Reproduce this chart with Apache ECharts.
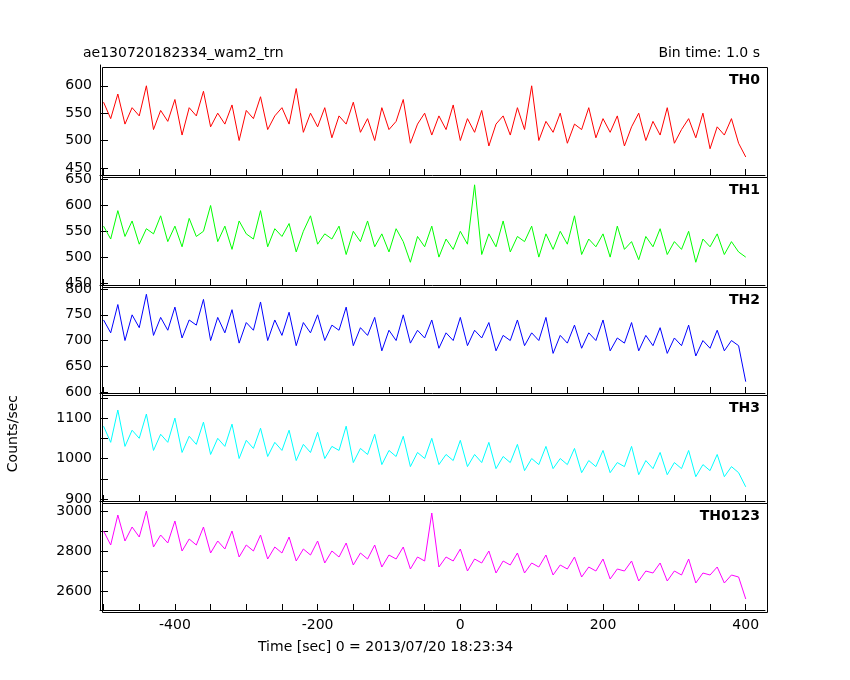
<!DOCTYPE html>
<html>
<head>
<meta charset="utf-8">
<script src="https://cdn.jsdelivr.net/npm/echarts@6/dist/echarts.min.js"></script>
<style>html,body{margin:0;background:#fff}#chart{width:850px;height:680px}</style>
</head>
<body>
<div id="chart"></div>
<script>
// 10 s samples starting at -500 s
var startTime = -500, step = 10;
var th0 = [570,540,585,530,560,545,600,520,555,535,575,510,560,545,590,525,550,530,565,500,555,540,580,520,545,560,530,595,515,550,525,560,505,545,530,570,515,540,500,560,520,535,575,495,530,550,510,545,520,565,500,540,515,555,490,530,545,510,560,520,600,500,535,515,550,495,530,520,560,505,540,515,545,490,525,550,500,535,510,560,495,520,540,505,550,485,525,510,540,495,470];
var th1 = [560,535,590,540,570,525,555,545,580,530,560,520,575,540,550,600,530,560,515,570,545,535,590,520,555,540,565,510,550,580,525,545,535,560,505,550,530,570,520,545,510,555,530,490,540,520,560,500,535,515,550,525,640,505,545,520,570,510,540,530,560,500,545,515,550,525,580,505,535,520,545,500,560,515,530,495,540,520,555,505,530,515,550,490,535,520,545,505,530,510,500];
var th2 = [740,715,770,700,750,725,790,710,745,720,765,705,740,730,780,700,745,715,760,695,735,720,775,700,740,710,755,690,735,715,750,700,730,720,765,690,725,710,745,680,720,700,750,695,720,705,740,685,715,700,745,690,720,705,735,680,710,700,740,690,715,700,745,675,710,695,730,685,715,700,740,680,705,695,735,680,710,690,725,675,705,690,730,670,700,685,720,680,700,690,620];
var th3 = [1080,1040,1120,1030,1070,1050,1110,1020,1060,1040,1100,1015,1055,1035,1090,1010,1050,1030,1085,1000,1045,1025,1075,1005,1040,1020,1070,995,1035,1015,1065,1000,1030,1020,1080,990,1025,1010,1060,985,1020,1005,1055,980,1015,1000,1050,985,1010,995,1045,980,1010,990,1040,975,1005,990,1035,970,1000,985,1030,975,1000,985,1025,965,995,980,1020,965,990,980,1030,960,995,975,1015,960,990,975,1020,955,985,970,1010,955,980,965,930];
var th0123 = [2900,2830,2980,2850,2920,2870,3000,2820,2880,2840,2950,2800,2860,2830,2920,2790,2850,2810,2900,2770,2830,2800,2880,2760,2820,2790,2870,2750,2810,2780,2850,2740,2800,2770,2840,2730,2790,2760,2830,2720,2780,2760,2820,2710,2770,2750,2990,2720,2770,2750,2810,2700,2760,2740,2800,2690,2750,2730,2790,2690,2740,2720,2780,2680,2730,2710,2770,2670,2720,2700,2760,2660,2710,2700,2750,2650,2700,2690,2740,2650,2700,2680,2760,2640,2690,2680,2720,2640,2680,2670,2560];

var xLabels = [-400, -200, 0, 200, 400];
var xTicks = [-500, -450, -400, -350, -300, -250, -200, -150, -100, -50, 0, 50, 100, 150, 200, 250, 300, 350, 400];
var panels = [
	{name: 'TH0', data: th0, color: '#ff0000', min: 437, max: 638, labels: [450, 500, 550, 600], ticks: [450, 500, 550, 600], top: 65},
	{name: 'TH1', data: th1, color: '#00ff00', min: 446, max: 659, labels: [450, 500, 550, 600, 650], ticks: [450, 500, 550, 600, 650], top: 175},
	{name: 'TH2', data: th2, color: '#0000ff', min: 598, max: 808, labels: [600, 650, 700, 750, 800], ticks: [600, 650, 700, 750, 800], top: 285},
	{name: 'TH3', data: th3, color: '#00ffff', min: 895, max: 1162, labels: [900, 1000, 1100], ticks: [900, 950, 1000, 1050, 1100, 1150], top: 393},
	{name: 'TH0123', data: th0123, color: '#ff00ff', min: 2505, max: 3050, labels: [2600, 2800, 3000], ticks: [2600, 2700, 2800, 2900, 3000], top: 501}
];
var heights = [110, 110, 108, 108, 109];
var font = 'DejaVu Sans';

var mainChart = echarts.init(document.getElementById('chart'));
var grid = [], xAxis = [], yAxis = [], series = [], graphic = [];
panels.forEach(function (p, i) {
	var last = i === panels.length - 1;
	grid.push({left: 100, right: 85, top: p.top, height: heights[i]});
	xAxis.push({
		type: 'value', gridIndex: i, min: -505, max: 427,
		axisLine: {onZero: false, lineStyle: {color: '#000'}},
		axisTick: {inside: true, length: 6, customValues: xTicks, lineStyle: {color: '#000'}},
		axisLabel: {show: last, customValues: xLabels, color: '#000', fontSize: 14, fontFamily: font,
			formatter: function (v) { return String(v); }},
		splitLine: {show: false}
	});
	yAxis.push({
		type: 'value', gridIndex: i, min: p.min, max: p.max,
		axisLine: {show: true, onZero: false, lineStyle: {color: '#000'}},
		axisTick: {inside: true, length: 8, customValues: p.ticks, lineStyle: {color: '#000'}},
		axisLabel: {customValues: p.labels, color: '#000', fontSize: 14, fontFamily: font,
			formatter: function (v) { return String(v); }},
		splitLine: {show: false}
	});
	series.push({
		type: 'line', xAxisIndex: i, yAxisIndex: i, showSymbol: false, animation: false,
		lineStyle: {color: p.color, width: 1},
		data: p.data.map(function (v, k) { return [startTime + k * step, v]; })
	});
	graphic.push({type: 'rect', left: 100, top: p.top, shape: {width: 665, height: heights[i]},
		style: {fill: 'none', stroke: '#000', lineWidth: 1}, z: 10});
	graphic.push({type: 'text', right: 90, top: p.top + 8,
		style: {text: p.name, font: 'bold 14px ' + font, fill: '#000'}});
});
graphic.push({type: 'text', left: 83, top: 46, style: {text: 'ae130720182334_wam2_trn', font: '14px ' + font, fill: '#000'}});
graphic.push({type: 'text', right: 90, top: 46, style: {text: 'Bin time: 1.0 s', font: '14px ' + font, fill: '#000'}});
graphic.push({type: 'text', left: 6, top: 395, rotation: Math.PI / 2, style: {text: 'Counts/sec', font: '14px ' + font, fill: '#000'}});
graphic.push({type: 'text', left: 258, top: 640, style: {text: 'Time [sec] 0 = 2013/07/20 18:23:34', font: '14px ' + font, fill: '#000'}});

mainChart.setOption({
	animation: false,
	grid: grid, xAxis: xAxis, yAxis: yAxis, series: series, graphic: graphic
});
</script>
</body>
</html>
